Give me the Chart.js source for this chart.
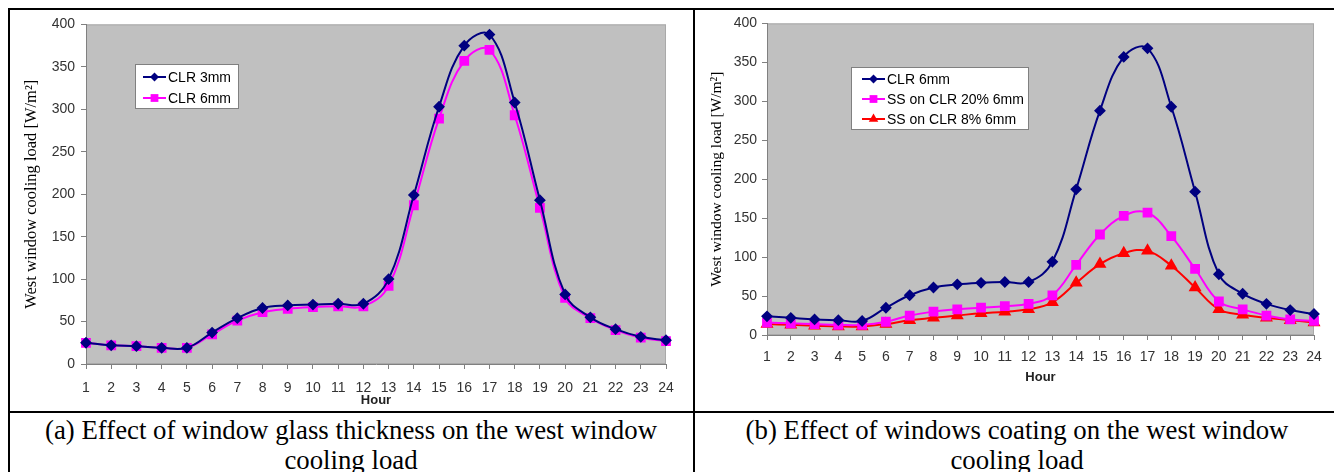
<!DOCTYPE html>
<html lang="en">
<head>
  <meta charset="UTF-8">
  <title>West window cooling load</title>
  <script src="https://cdn.jsdelivr.net/npm/chart.js"></script>
  <style>
    body {
      margin: 0;
      width: 1334px;
      height: 472px;
      background: #fff;
      position: relative;
      overflow: hidden;
    }
    .line { position: absolute; background: #000; }
    .box { position: absolute; }
    .caption {
      position: absolute;
      top: 415px;
      font-family: "Liberation Serif", "Times New Roman", serif;
      font-size: 26.8px;
      line-height: 30px;
      text-align: center;
      color: #000;
    }
  </style>
</head>
<body>

  <div class="line" style="left:8px;top:8px;width:1326px;height:2px"></div>
  <div class="line" style="left:8px;top:411px;width:1326px;height:2px"></div>
  <div class="line" style="left:8px;top:8px;width:2px;height:464px"></div>
  <div class="line" style="left:693px;top:8px;width:2px;height:464px"></div>

  <div class="box" style="left:10px;top:10px;width:682px;height:400px"><canvas id="chartA"></canvas></div>
  <div class="box" style="left:696px;top:10px;width:638px;height:400px"><canvas id="chartB"></canvas></div>

  <div class="caption" style="left:10px;width:682px">(a) Effect of window glass thickness on the west window<br>cooling load</div>
  <div class="caption" style="left:695px;width:644px">(b) Effect of windows coating on the west window<br>cooling load</div>

  <script>
    const hours = ['1','2','3','4','5','6','7','8','9','10','11','12','13','14','15','16','17','18','19','20','21','22','23','24'];

    // (a) glass thickness
    const clr3mm  = [25, 22, 21, 19, 19, 37, 54, 66, 69, 70, 71, 71, 100, 199, 303, 375, 388, 308, 193, 82, 55, 41, 32, 28];
    const clr6mmA = [25, 22, 21, 19, 19, 35, 51, 61, 65, 67, 68, 68, 92, 187, 289, 357, 370, 293, 184, 78, 54, 40, 31, 27];

    // (b) coating
    const clr6mmB = [24, 22, 20, 19, 18, 35, 51, 61, 65, 67, 68, 68, 94, 187, 288, 357, 368, 293, 184, 78, 53, 40, 32, 27];
    const ss20    = [16, 15, 14, 13, 13, 17, 25, 30, 33, 35, 37, 40, 51, 90, 129, 153, 157, 127, 85, 43, 33, 25, 20, 18];
    const ss8     = [14, 13, 12, 11, 11, 14, 19, 22, 25, 28, 30, 33, 42, 67, 91, 105, 108, 89, 61, 33, 26, 22, 19, 16];

    const yTitle = 'West window cooling load [W/m\u00B2]';
    const xTitle = 'Hour';

    const sans = '"Liberation Sans", Arial, sans-serif';
    const serif = '"Liberation Serif", "Times New Roman", serif';

    // grey plot background with a light frame
    const plotBg = {
      id: 'plotBg',
      beforeDraw(chart) {
        const { ctx, chartArea: a } = chart;
        ctx.save();
        ctx.fillStyle = '#c0c0c0';
        ctx.fillRect(a.left, a.top, a.right - a.left, a.bottom - a.top);
        ctx.strokeStyle = '#a9a9a9';
        ctx.lineWidth = 1;
        ctx.strokeRect(a.left + 0.5, a.top + 0.5, a.right - a.left - 1, a.bottom - a.top - 1);
        ctx.restore();
      }
    };

    // legend box drawn inside the plot, like the Excel one
    const boxLegend = {
      id: 'boxLegend',
      afterDatasetsDraw(chart, args, opts) {
        const { ctx } = chart;
        ctx.save();
        ctx.fillStyle = '#fff';
        ctx.fillRect(opts.x, opts.y, opts.w, opts.h);
        ctx.strokeStyle = '#808080';
        ctx.lineWidth = 1;
        ctx.strokeRect(opts.x + 0.5, opts.y + 0.5, opts.w - 1, opts.h - 1);
        ctx.font = '14px ' + sans;
        ctx.textBaseline = 'middle';
        chart.data.datasets.forEach((ds, i) => {
          const y = opts.rowY + i * opts.rowH;
          ctx.strokeStyle = ds.borderColor;
          ctx.lineWidth = 2;
          ctx.beginPath();
          ctx.moveTo(opts.lineX, y);
          ctx.lineTo(opts.lineX + 23, y);
          ctx.stroke();
          ctx.fillStyle = ds.pointBackgroundColor;
          ctx.strokeStyle = ds.borderColor;
          ctx.lineWidth = 1;
          Chart.helpers.drawPoint(ctx, { pointStyle: ds.pointStyle, radius: ds.pointRadius, rotation: 0 }, opts.lineX + 11.5, y);
          ctx.fillStyle = '#000';
          ctx.fillText(ds.label, opts.lineX + 25, y + 1);
        });
        ctx.restore();
      }
    };

    function series(label, data, color, style, radius) {
      return {
        label, data,
        borderColor: color,
        backgroundColor: color,
        pointBackgroundColor: color,
        pointBorderColor: color,
        borderWidth: 2,
        pointStyle: style,
        pointRadius: radius,
        tension: 0.4
      };
    }

    function makeChart(id, datasets, g) {
      return new Chart(document.getElementById(id).getContext('2d'), {
        type: 'line',
        data: { labels: hours, datasets },
        plugins: [plotBg, boxLegend],
        options: {
          responsive: true,
          maintainAspectRatio: false,
          animation: false,
          layout: { padding: { top: g.top, right: g.right, left: 0, bottom: 0 } },
          plugins: {
            legend: { display: false },
            tooltip: { enabled: false },
            boxLegend: g.legend
          },
          scales: {
            x: {
              offset: false,
              grid: { drawOnChartArea: false, tickLength: 5, color: '#808080' },
              border: { color: '#808080' },
              ticks: { color: '#333', font: { family: sans, size: 14 }, padding: g.xPad, maxRotation: 0, autoSkip: false },
              title: { display: true, text: xTitle, color: '#222', font: { family: sans, size: 13, weight: 'bold' }, padding: { top: 0, bottom: g.hourPad } },
              afterFit: s => { s.height = g.xH; }
            },
            y: {
              min: 0, max: 400,
              grid: { drawOnChartArea: false, tickLength: 5, color: '#808080' },
              border: { color: '#808080' },
              ticks: { stepSize: 50, color: '#333', font: { family: sans, size: 14 }, padding: g.yPad },
              title: { display: true, text: yTitle, color: '#000', font: { family: serif, size: g.titleSize }, padding: { top: g.titlePad, bottom: 0 } },
              afterFit: s => { s.width = g.yW; }
            }
          }
        }
      });
    }

    makeChart('chartA', [
      series('CLR 3mm', clr3mm, '#000080', 'rectRot', 4.5),
      series('CLR 6mm', clr6mmA, '#ff00ff', 'rect', 5.5)
    ], {
      top: 10, right: 26, yW: 76, xH: 46, xPad: 11, yPad: 6, hourPad: 2,
      titleSize: 16.5, titlePad: 12,
      legend: { x: 125, y: 54, w: 104, h: 45, lineX: 133, rowY: 67, rowH: 21 }
    });

    makeChart('chartB', [
      series('CLR 6mm', clr6mmB, '#000080', 'rectRot', 4.5),
      series('SS on CLR 20% 6mm', ss20, '#ff00ff', 'rect', 5.5),
      series('SS on CLR 8% 6mm', ss8, '#ff0000', 'triangle', 5.5)
    ], {
      top: 9, right: 20, yW: 71, xH: 75, xPad: 9, yPad: 5, hourPad: 25,
      titleSize: 15.5, titlePad: 12,
      legend: { x: 155, y: 57, w: 178, h: 63, lineX: 166, rowY: 69, rowH: 20 }
    });
  </script>

</body>
</html>
